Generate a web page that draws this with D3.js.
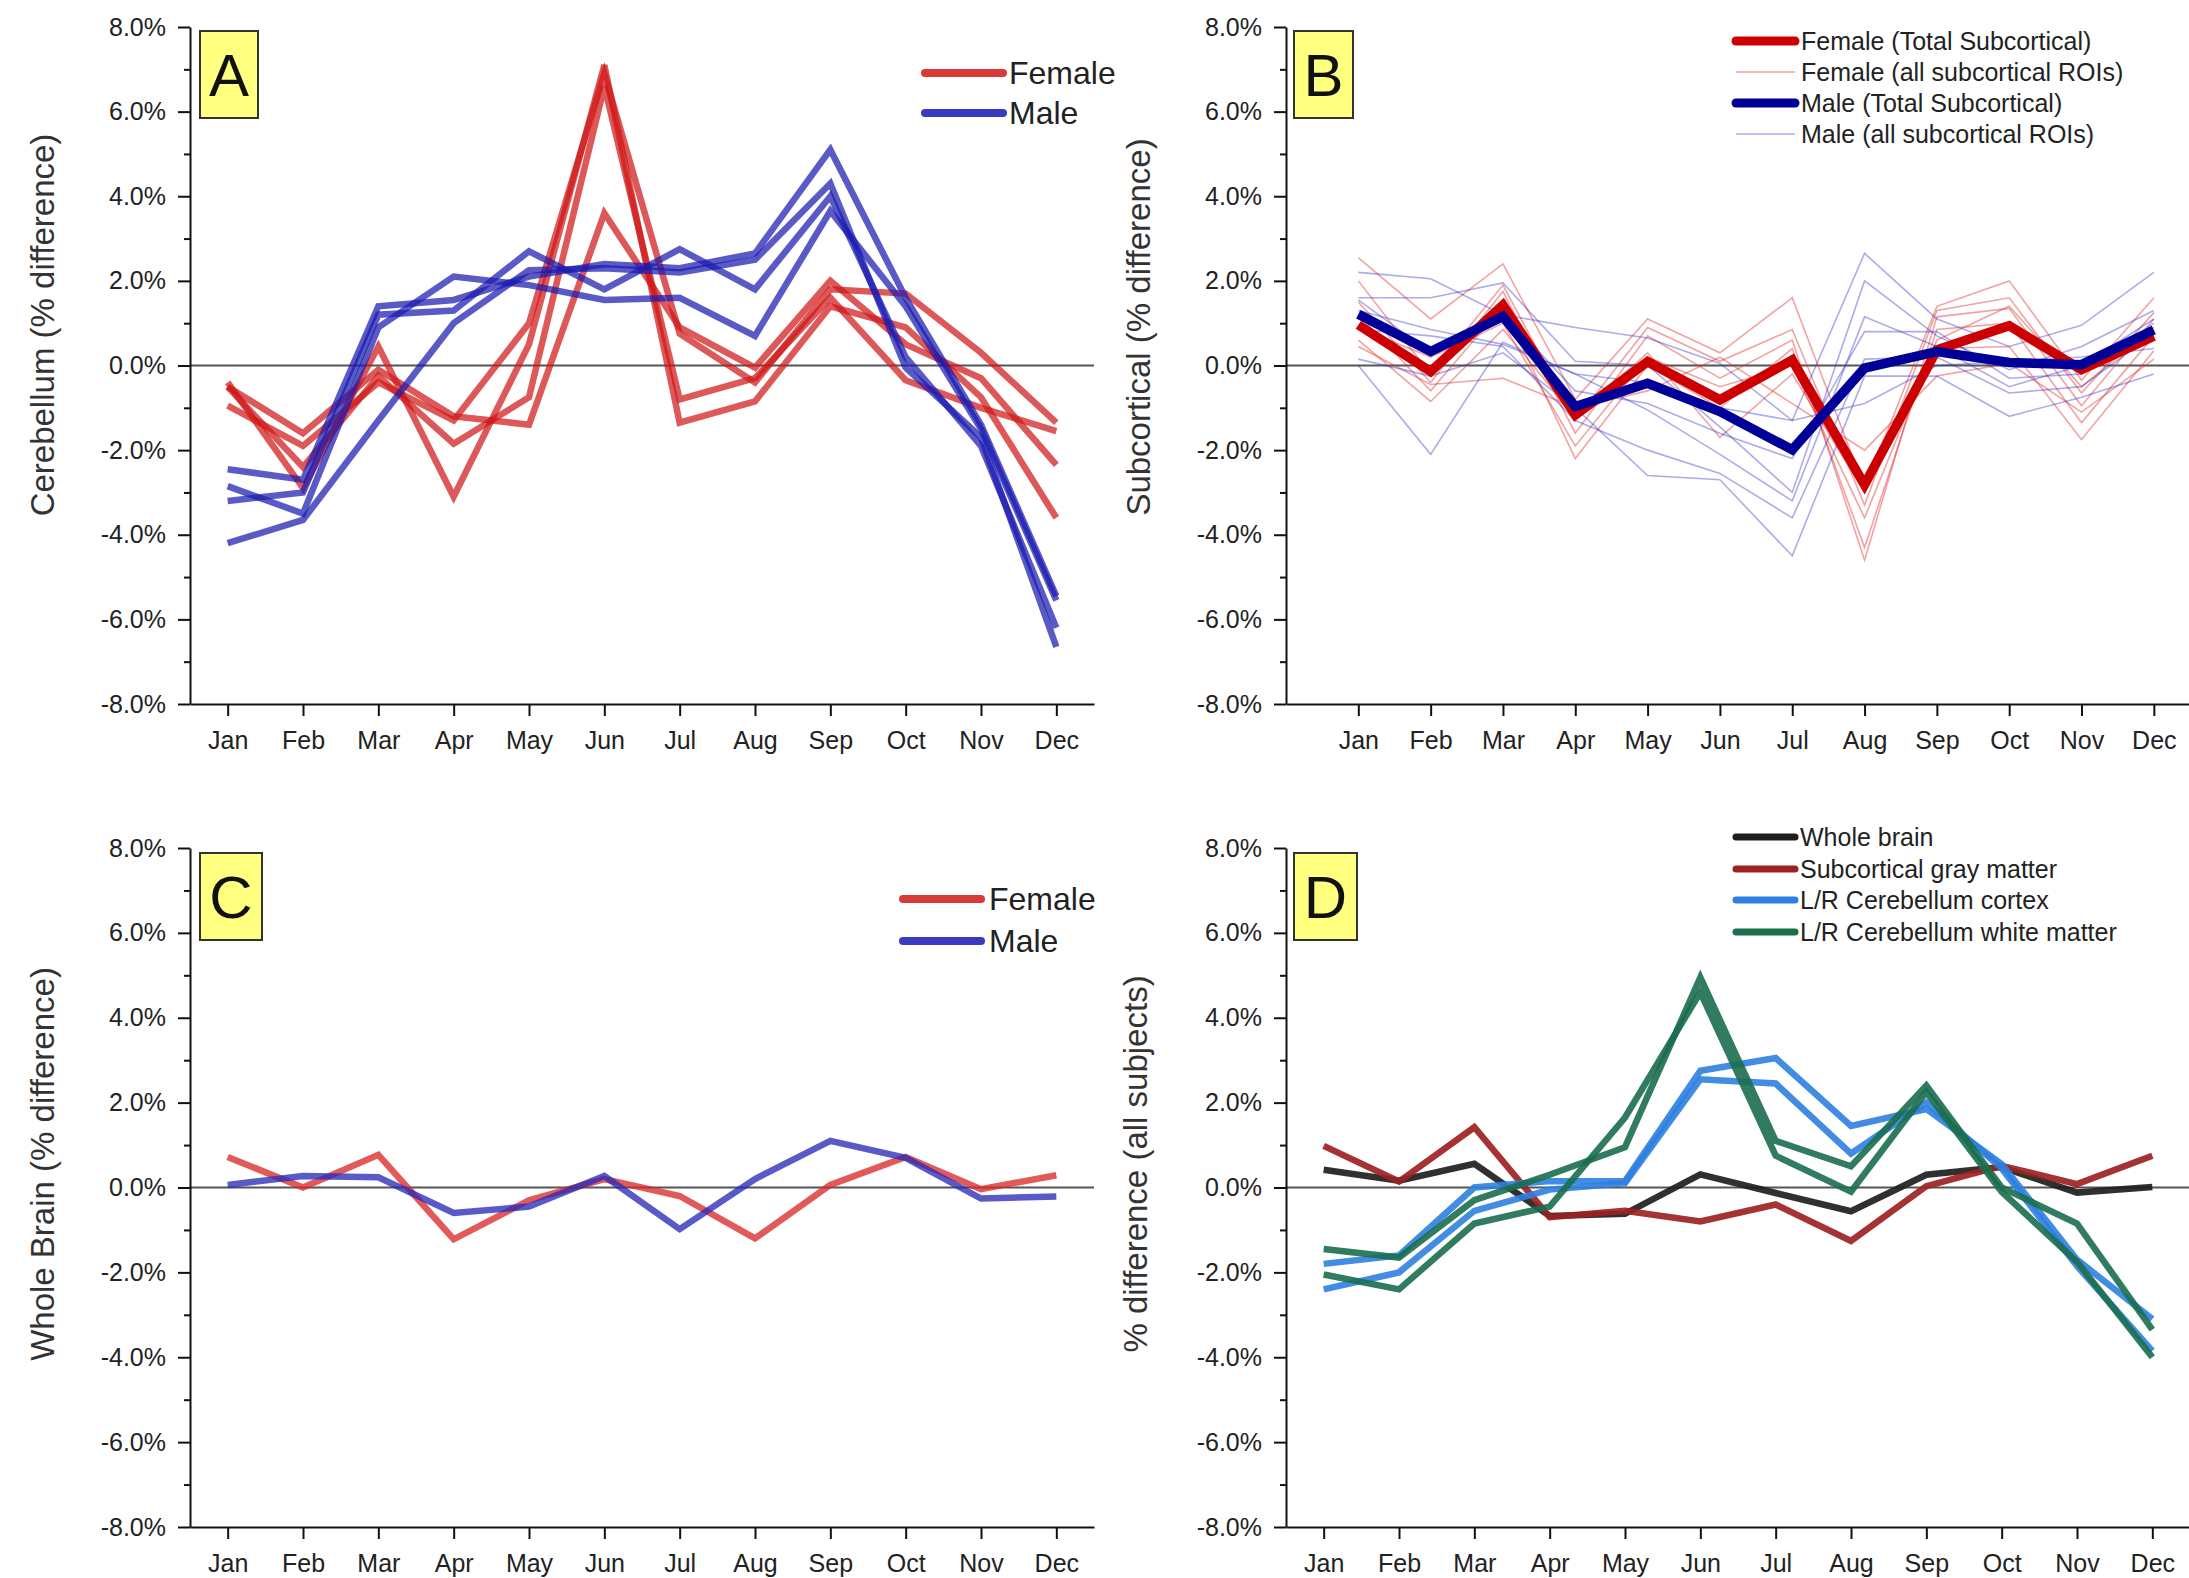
<!DOCTYPE html>
<html>
<head>
<meta charset="utf-8">
<title>seasonal brain volume</title>
<script src="https://d3js.org/d3.v7.min.js"></script>
<style>
  html, body { margin: 0; padding: 0; background: #fff; }
  svg { display: block; }
</style>
</head>
<body>
<svg width="2189" height="1578"></svg>
<script>
// months on the x axis
var months = ["Jan","Feb","Mar","Apr","May","Jun","Jul","Aug","Sep","Oct","Nov","Dec"];

// A - cerebellum ROIs, % difference
var cerebFemale = [
  [-0.4, -2.9, 0.45, -3.1, 0.5, 7.1, -1.35, -0.85, 1.4, 0.9, -0.75, -3.6],
  [-0.5, -2.4, -0.25, -1.85, -0.75, 6.6, -0.8, -0.3, 1.6, -0.35, -1.0, -1.55],
  [-0.95, -1.9, -0.4, -1.3, 1.0, 6.9, 0.75, -0.4, 1.8, 1.7, 0.3, -1.35],
  [-0.5, -1.6, -0.1, -1.2, -1.4, 3.6, 0.9, -0.05, 2.0, 0.5, -0.3, -2.35]
];
var cerebMale = [
  [-2.45, -2.7, 1.4, 1.55, 2.1, 2.4, 2.3, 2.65, 5.1, 1.6, -1.4, -5.45],
  [-2.85, -3.5, 0.9, 2.1, 1.9, 1.55, 1.6, 0.7, 3.65, 1.4, -1.5, -5.55],
  [-3.2, -3.0, 1.2, 1.3, 2.7, 1.8, 2.75, 1.8, 4.0, 0.2, -1.9, -6.2],
  [-4.2, -3.65, -1.3, 1.0, 2.25, 2.3, 2.2, 2.5, 4.3, -0.05, -1.7, -6.65]
];

// B - subcortical
var subFemaleTotal = [0.96, -0.14, 1.43, -1.17, 0.09, -0.81, 0.13, -2.82, 0.37, 0.94, -0.1, 0.69];
var subMaleTotal = [1.21, 0.33, 1.16, -0.97, -0.42, -1.09, -1.99, -0.06, 0.33, 0.07, 0.02, 0.84];
var subFemaleROIs = [
  [2.55, 1.1, 2.4, -0.8, 1.1, 0.3, 1.6, -2.9, 1.4, 2.0, -0.35, 1.6],
  [2.0, -0.2, 1.9, -1.3, 0.9, 0.1, 0.85, -3.3, 1.3, 1.6, -0.65, 1.25],
  [1.5, -0.4, 1.75, -1.6, 0.7, -0.3, 0.6, -4.6, 1.15, 1.35, -0.95, 1.1],
  [1.2, -0.6, 1.4, -2.2, 0.0, -1.0, 0.4, -4.3, 0.85, 1.0, -1.35, 0.7],
  [0.6, -0.85, 0.85, -1.2, 0.3, -1.7, -0.2, -3.0, 0.4, 0.45, -1.75, 0.35],
  [0.45, -0.45, -0.3, -1.0, -0.6, 0.2, -0.9, -2.0, -0.25, 0.05, -1.1, 0.15],
  [0.9, 0.2, 1.0, -1.9, 0.2, -0.5, 0.0, -3.6, 0.6, 1.4, -0.5, 0.9]
];
var subMaleROIs = [
  [2.2, 2.05, 1.2, 0.9, 0.65, 0.05, -1.3, 2.65, 1.1, 0.45, 0.95, 2.2],
  [1.6, 1.6, 1.95, 0.1, 0.0, -1.45, -3.0, 2.0, 0.7, -0.1, 0.45, 1.3],
  [1.3, 0.85, 0.5, -0.2, -1.05, -2.1, -3.2, 1.15, 0.45, -0.5, 0.0, 1.1],
  [0.85, 0.7, 0.45, -1.3, -2.0, -2.55, -3.6, 0.15, 0.2, -0.65, -0.5, 0.75],
  [0.15, -0.25, 0.3, -1.0, -2.6, -2.7, -4.5, -0.25, -0.25, -1.2, -0.75, -0.2],
  [0.0, -2.1, 0.55, -0.2, -0.4, -1.0, -1.3, -0.9, 0.0, 0.1, 0.2, 0.4],
  [1.55, 0.3, 1.25, -0.6, -0.9, -1.6, -2.2, 0.8, 0.8, -0.3, -0.2, 1.0]
];

// C - whole brain
var wholeFemale = [0.72, 0.0, 0.77, -1.22, -0.3, 0.2, -0.2, -1.2, 0.06, 0.72, -0.04, 0.29];
var wholeMale = [0.06, 0.27, 0.24, -0.6, -0.45, 0.27, -0.98, 0.2, 1.1, 0.7, -0.26, -0.21];

// D - all subjects
var allWhole = [0.42, 0.16, 0.56, -0.67, -0.62, 0.31, -0.13, -0.56, 0.3, 0.48, -0.12, 0.01];
var allSubcortical = [0.98, 0.14, 1.42, -0.7, -0.55, -0.8, -0.4, -1.26, 0.03, 0.51, 0.08, 0.75];
var allCbCortex = [
  [-1.8, -1.6, 0.0, 0.15, 0.15, 2.75, 3.05, 1.45, 1.85, 0.55, -1.7, -3.1],
  [-2.4, -2.0, -0.55, -0.05, 0.1, 2.55, 2.45, 0.8, 2.0, 0.45, -1.85, -3.85]
];
var allCbWhite = [
  [-1.45, -1.65, -0.3, 0.3, 0.95, 4.95, 1.1, 0.5, 2.4, 0.0, -0.85, -3.35],
  [-2.05, -2.4, -0.85, -0.45, 1.65, 4.6, 0.75, -0.1, 2.25, -0.1, -1.75, -4.0]
];

var font = "'Liberation Sans', Arial, sans-serif";
var svg = d3.select("svg");

// one panel: axes, zero line, letter box, y title
function panel(o) {
  var x = d3.scaleLinear().domain(o.xDomain).range([o.x0, o.x1]);
  var y = d3.scaleLinear().domain([-8, 8]).range([o.y1, o.y0]);
  var g = svg.append("g");

  g.append("line")
    .attr("x1", o.x0).attr("x2", o.x1)
    .attr("y1", y(0)).attr("y2", y(0))
    .attr("stroke", "#555").attr("stroke-width", 2);

  // minor y ticks
  var minor = g.append("g").attr("transform", "translate(" + o.x0 + ",0)")
    .call(d3.axisLeft(y).tickValues(d3.range(-7, 8, 2)).tickSize(6).tickFormat(""));
  minor.select(".domain").remove();
  minor.selectAll("line").attr("stroke", "#111").attr("stroke-width", 2);

  var ya = g.append("g").attr("transform", "translate(" + o.x0 + ",0)")
    .call(d3.axisLeft(y).tickValues(d3.range(-8, 9, 2)).tickSize(12).tickSizeOuter(0)
      .tickPadding(12).tickFormat(function(d){ return d.toFixed(1) + "%"; }));

  var xa = g.append("g").attr("transform", "translate(0," + o.y1 + ")")
    .call(d3.axisBottom(x).tickValues(d3.range(12)).tickSize(12).tickSizeOuter(0)
      .tickPadding(15).tickFormat(function(i){ return months[i]; }));

  [ya, xa].forEach(function(a){
    a.attr("font-size", 25).attr("font-family", font);
    a.selectAll("path, line").attr("stroke", "#111").attr("stroke-width", 2);
    a.selectAll("text").attr("fill", "#222");
  });

  // letter box
  g.append("rect")
    .attr("x", o.box[0]).attr("y", o.box[1]).attr("width", o.box[2]).attr("height", o.box[3])
    .attr("fill", "#ffff80").attr("stroke", "#333").attr("stroke-width", 2);
  g.append("text")
    .attr("x", o.box[0] + o.box[2] / 2).attr("y", o.box[1] + o.box[3] / 2 + 21)
    .attr("text-anchor", "middle").attr("font-size", 60).attr("font-family", font)
    .attr("fill", "#111").text(o.letter);

  g.append("text")
    .attr("transform", "translate(" + o.title[0] + "," + o.title[1] + ") rotate(-90)")
    .attr("dy", "0.35em").attr("text-anchor", "middle")
    .attr("font-size", 33).attr("font-family", font).attr("fill", "#333")
    .text(o.titleText);

  var line = d3.line().x(function(d, i){ return x(i); }).y(function(d){ return y(d); });
  return { g: g, line: line };
}

function drawLines(p, rows, color, width, opacity) {
  p.g.append("g").selectAll("path").data(rows).enter().append("path")
    .attr("d", p.line)
    .attr("fill", "none")
    .attr("stroke", color)
    .attr("stroke-width", width)
    .attr("stroke-opacity", opacity)
    .attr("stroke-linejoin", "miter");
}

function legend(items, x0, x1, tx, size) {
  var lg = svg.append("g").selectAll("g").data(items).enter().append("g");
  lg.append("line")
    .attr("x1", x0).attr("x2", x1)
    .attr("y1", function(d){ return d.y; }).attr("y2", function(d){ return d.y; })
    .attr("stroke", function(d){ return d.color; })
    .attr("stroke-width", function(d){ return d.w; })
    .attr("stroke-opacity", function(d){ return d.op || 1; })
    .attr("stroke-linecap", function(d){ return d.w > 3 ? "round" : "butt"; });
  lg.append("text")
    .attr("x", tx).attr("y", function(d){ return d.y; }).attr("dy", "0.35em")
    .attr("font-size", size).attr("font-family", font).attr("fill", "#222")
    .text(function(d){ return d.label; });
}

// ---- A
var pA = panel({ x0: 190, x1: 1094, xDomain: [-0.5, 11.5], y0: 27, y1: 704,
  box: [200, 31, 58, 87], letter: "A", title: [42, 325], titleText: "Cerebellum (% difference)" });
drawLines(pA, cerebFemale, "#d01818", 6.5, 0.72);
drawLines(pA, cerebMale, "#1a1ab0", 6.5, 0.72);
legend([
  { label: "Female", y: 73, color: "#d83a3a", w: 8 },
  { label: "Male", y: 113, color: "#3a3ac0", w: 8 }
], 925, 1003, 1009, 32);

// ---- B
var pB = panel({ x0: 1286, x1: 2190, xDomain: [-1, 11.5], y0: 27, y1: 704,
  box: [1294, 31, 59, 87], letter: "B", title: [1138, 327], titleText: "Subcortical (% difference)" });
drawLines(pB, subFemaleROIs, "#e03030", 1.6, 0.45);
drawLines(pB, subMaleROIs, "#3030c8", 1.6, 0.4);
drawLines(pB, [subFemaleTotal], "#cc0000", 9.5, 1);
drawLines(pB, [subMaleTotal], "#000099", 9.5, 1);
legend([
  { label: "Female (Total Subcortical)", y: 41, color: "#cc0000", w: 9 },
  { label: "Female (all subcortical ROIs)", y: 72, color: "#e03030", w: 1.6, op: 0.45 },
  { label: "Male (Total Subcortical)", y: 103, color: "#000099", w: 9 },
  { label: "Male (all subcortical ROIs)", y: 134, color: "#3030c8", w: 1.6, op: 0.4 }
], 1736, 1795, 1801, 25);

// ---- C
var pC = panel({ x0: 190, x1: 1094, xDomain: [-0.5, 11.5], y0: 848, y1: 1527,
  box: [200, 853, 62, 87], letter: "C", title: [42, 1164], titleText: "Whole Brain (% difference)" });
drawLines(pC, [wholeFemale], "#d82a2a", 6.5, 0.78);
drawLines(pC, [wholeMale], "#2a2ab8", 6.5, 0.78);
legend([
  { label: "Female", y: 899, color: "#d83a3a", w: 8 },
  { label: "Male", y: 941, color: "#3a3ac0", w: 8 }
], 903, 981, 989, 32);

// ---- D
var pD = panel({ x0: 1286, x1: 2190, xDomain: [-0.5, 11.5], y0: 848, y1: 1527,
  box: [1294, 853, 63, 87], letter: "D", title: [1135, 1164], titleText: "% difference (all subjects)" });
drawLines(pD, [allWhole], "#1e1e1e", 6.5, 0.92);
drawLines(pD, [allSubcortical], "#9e2222", 6.5, 0.92);
drawLines(pD, allCbCortex, "#2d7fe0", 6.5, 0.9);
drawLines(pD, allCbWhite, "#1b6e4c", 6.5, 0.9);
legend([
  { label: "Whole brain", y: 837, color: "#1e1e1e", w: 7 },
  { label: "Subcortical gray matter", y: 869, color: "#9e2222", w: 7 },
  { label: "L/R Cerebellum cortex", y: 900, color: "#2d7fe0", w: 7 },
  { label: "L/R Cerebellum white matter", y: 932, color: "#1b6e4c", w: 7 }
], 1736, 1795, 1800, 25);
</script>
</body>
</html>
